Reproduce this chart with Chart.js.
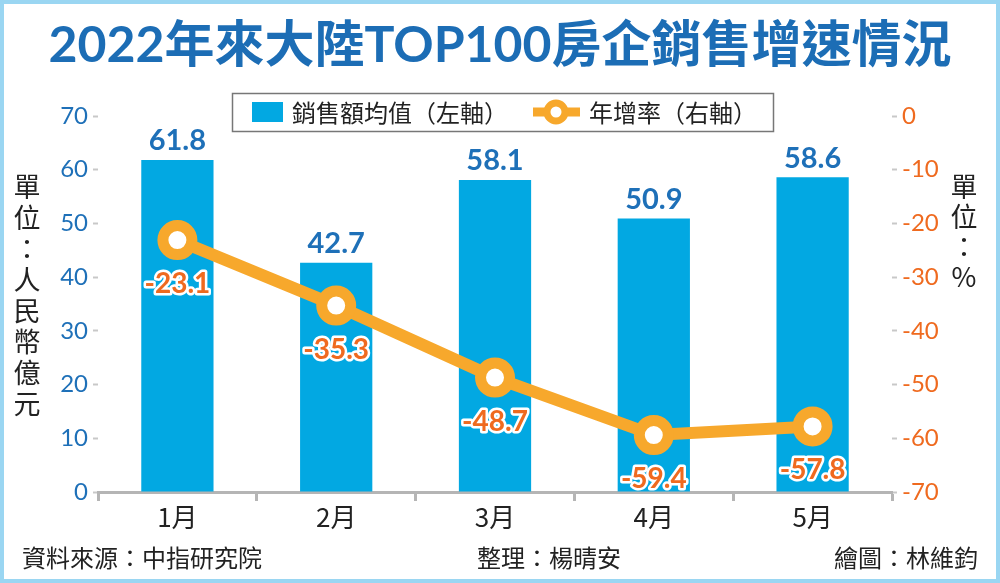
<!DOCTYPE html>
<html>
<head>
<meta charset="utf-8">
<script src="https://cdn.jsdelivr.net/npm/chart.js@4/dist/chart.umd.min.js"></script>
<style>
  html, body { margin: 0; padding: 0; background: #fff; }
  #wrap { width: 1000px; height: 583px; }
</style>
</head>
<body>
<div id="wrap"><canvas id="grafico" width="1000" height="583"></canvas></div>
<script>
const meses = ['1月', '2月', '3月', '4月', '5月'];
const ventasPromedio = [61.8, 42.7, 58.1, 50.9, 58.6];
const tasaAnual = [-23.1, -35.3, -48.7, -59.4, -57.8];
const ticksIzq = [0, 10, 20, 30, 40, 50, 60, 70];
const ticksDer = [-70, -60, -50, -40, -30, -20, -10, 0];

const AZUL_BARRA = '#02a8e2';
const AZUL_TEXTO = '#1e70b8';
const NARANJA_LINEA = '#f7a82c';
const NARANJA_TEXTO = '#ef6a1f';
const FUENTE = "Lato, 'Noto Sans CJK TC', sans-serif";
const FUENTE_CJK = "'Noto Sans CJK TC', sans-serif";

// dibuja texto vertical caracter por caracter
function textoVertical(ctx, texto, x, y, paso) {
    for (let i = 0; i < texto.length; i++) {
        ctx.fillText(texto[i], x, y + i * paso);
    }
}

const extras = {
    id: 'extras',
    beforeDraw(chart) {
        const ctx = chart.ctx;
        ctx.save();
        ctx.fillStyle = '#ffffff';
        ctx.fillRect(0, 0, chart.width, chart.height);
        ctx.restore();
    },
    afterDatasetsDraw(chart) {
        const ctx = chart.ctx;
        ctx.save();

        // etiquetas de las barras
        const barras = chart.getDatasetMeta(1);
        ctx.font = 'bold 29px ' + FUENTE;
        ctx.fillStyle = AZUL_TEXTO;
        ctx.textAlign = 'center';
        ctx.textBaseline = 'middle';
        barras.data.forEach((barra, i) => {
            ctx.fillText(ventasPromedio[i].toFixed(1), barra.x, barra.y - 19);
        });

        // etiquetas de la linea
        const linea = chart.getDatasetMeta(0);
        ctx.font = 'bold 28px ' + FUENTE;
        ctx.lineJoin = 'round';
        linea.data.forEach((punto, i) => {
            const texto = tasaAnual[i].toFixed(1);
            ctx.strokeStyle = '#ffffff';
            ctx.lineWidth = 5;
            ctx.strokeText(texto, punto.x, punto.y + 44);
            ctx.fillStyle = NARANJA_TEXTO;
            ctx.fillText(texto, punto.x, punto.y + 44);
        });
        ctx.restore();
    },
    afterDraw(chart) {
        const ctx = chart.ctx;
        ctx.save();

        // borde celeste
        ctx.strokeStyle = '#9ad6f2';
        ctx.lineWidth = 8;
        ctx.strokeRect(0, 0, chart.width, chart.height);

        // titulo
        ctx.fillStyle = '#1c6db5';
        ctx.font = 'bold 50px ' + FUENTE;
        ctx.textAlign = 'center';
        ctx.textBaseline = 'middle';
        ctx.fillText('2022年來大陸TOP100房企銷售增速情況', 500, 46);

        // leyenda
        ctx.fillStyle = '#ffffff';
        ctx.fillRect(232, 93, 541, 38);
        ctx.strokeStyle = '#777777';
        ctx.lineWidth = 1.5;
        ctx.strokeRect(232.5, 93.5, 541, 38);
        ctx.fillStyle = AZUL_BARRA;
        ctx.fillRect(252, 102, 31, 20);
        ctx.fillStyle = '#222222';
        ctx.font = '24px ' + FUENTE_CJK;
        ctx.textAlign = 'left';
        ctx.fillText(chart.data.datasets[1].label, 292, 113);
        ctx.strokeStyle = NARANJA_LINEA;
        ctx.lineWidth = 9;
        ctx.beginPath();
        ctx.moveTo(533, 112);
        ctx.lineTo(580, 112);
        ctx.stroke();
        ctx.beginPath();
        ctx.arc(556, 112, 9, 0, Math.PI * 2);
        ctx.fillStyle = '#ffffff';
        ctx.fill();
        ctx.lineWidth = 7;
        ctx.stroke();
        ctx.fillStyle = '#222222';
        ctx.fillText(chart.data.datasets[0].label, 589, 113);

        // titulos de ejes verticales
        ctx.font = '27px ' + FUENTE_CJK;
        ctx.textAlign = 'center';
        ctx.fillStyle = '#222222';
        textoVertical(ctx, '單位：人民幣億元', 27, 187, 31);
        textoVertical(ctx, '單位：%', 964, 187, 30);

        // pie
        ctx.font = '24px ' + FUENTE_CJK;
        ctx.fillStyle = '#222222';
        ctx.textAlign = 'left';
        ctx.fillText('資料來源：中指研究院', 22, 558);
        ctx.fillText('整理：楊晴安', 477, 558);
        ctx.textAlign = 'right';
        ctx.fillText('繪圖：林維鈞', 978, 558);
        ctx.restore();
    }
};

const ctx = document.getElementById('grafico').getContext('2d');
const grafico = new Chart(ctx, {
    data: {
        labels: meses,
        datasets: [{
            type: 'line',
            label: '年增率（右軸）',
            data: tasaAnual,
            yAxisID: 'yDer',
            borderColor: NARANJA_LINEA,
            borderWidth: 12,
            pointRadius: 14.5,
            pointBorderWidth: 11,
            pointBackgroundColor: '#ffffff',
            pointBorderColor: NARANJA_LINEA,
            tension: 0,
            order: 1
        }, {
            type: 'bar',
            label: '銷售額均值（左軸）',
            data: ventasPromedio,
            yAxisID: 'yIzq',
            backgroundColor: AZUL_BARRA,
            categoryPercentage: 1,
            barPercentage: 0.455,
            order: 2
        }]
    },
    options: {
        responsive: false,
        animation: false,
        devicePixelRatio: 1,
        layout: { padding: { top: 116, left: 0, right: 0, bottom: 0 } },
        plugins: {
            legend: { display: false },
            tooltip: { enabled: false }
        },
        scales: {
            x: {
                offset: true,
                grid: {
                    display: true,
                    drawOnChartArea: false,
                    offset: true,
                    tickLength: 9,
                    tickWidth: 3,
                    tickColor: '#b5b5b5'
                },
                border: { display: true, color: '#b5b5b5', width: 3 },
                ticks: {
                    color: '#222222',
                    font: { size: 26, family: FUENTE_CJK },
                    padding: 1
                },
                afterFit(scale) { scale.height = 91; }
            },
            yIzq: {
                position: 'left',
                min: 0,
                max: 70,
                afterBuildTicks(scale) { scale.ticks = ticksIzq.map(v => ({ value: v })); },
                grid: {
                    drawOnChartArea: false,
                    tickLength: 5,
                    tickWidth: 2,
                    tickColor: '#c8c8c8'
                },
                border: { display: false },
                ticks: {
                    color: AZUL_TEXTO,
                    font: { size: 24, family: FUENTE },
                    padding: 5
                },
                afterFit(scale) { scale.width = 98; }
            },
            yDer: {
                position: 'right',
                min: -70,
                max: 0,
                afterBuildTicks(scale) { scale.ticks = ticksDer.map(v => ({ value: v })); },
                grid: {
                    drawOnChartArea: false,
                    tickLength: 5,
                    tickWidth: 2,
                    tickColor: '#c8c8c8'
                },
                border: { display: false },
                ticks: {
                    color: NARANJA_TEXTO,
                    font: { size: 24, family: FUENTE },
                    padding: 5
                },
                afterFit(scale) { scale.width = 108; }
            }
        }
    },
    plugins: [extras]
});
</script>
</body>
</html>
